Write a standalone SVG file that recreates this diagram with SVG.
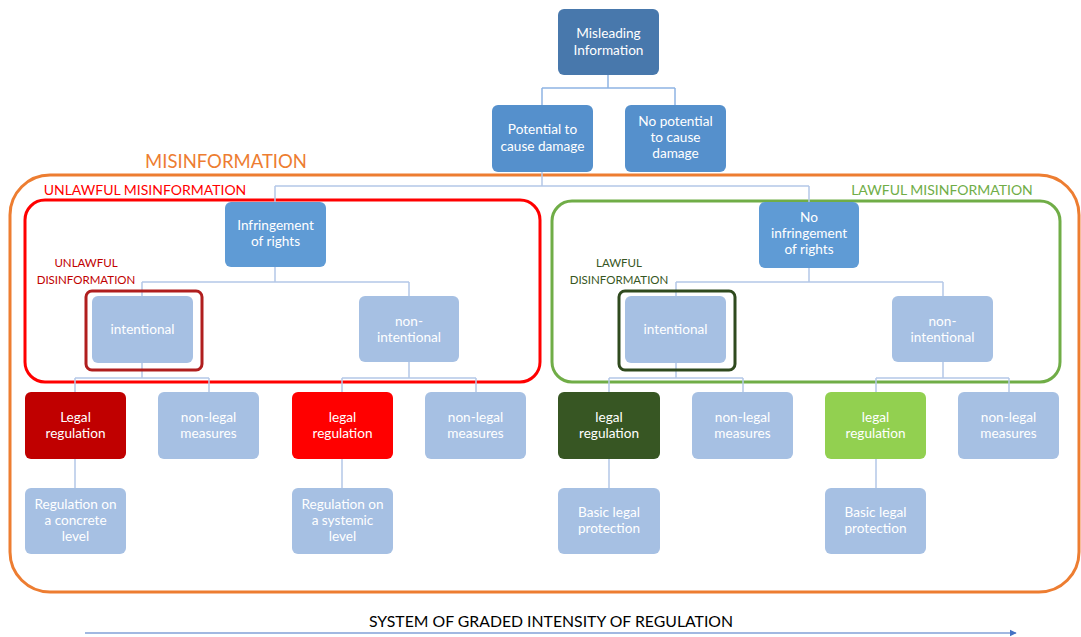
<svg xmlns="http://www.w3.org/2000/svg" width="1081" height="637" viewBox="0 0 1081 637">
<defs>
<style>
.n text{font-family:Lato,"Open Sans","Liberation Sans",sans-serif;font-size:13.6px;fill:#fff;text-anchor:middle}
.n rect{rx:6;ry:6}
.dk{fill:#4878AC}.md{fill:#5590CC}.ir{fill:#5F9BD5}.lt{fill:#A6C0E3}
.c path{fill:none;stroke:#B4C7E7;stroke-width:1.5}
.c path.t{stroke:#8EB4E3}
.lbl{font-family:Lato,"Open Sans","Liberation Sans",sans-serif}
</style>
<marker id="ah" viewBox="0 0 10 10" refX="9" refY="5" markerWidth="6" markerHeight="6" orient="auto"><path d="M0,0 L10,5 L0,10 z" fill="#4472C4"/></marker>
</defs>
<rect width="1081" height="637" fill="#fff"/>

<!-- group outlines -->
<rect x="10" y="175" width="1069" height="417" rx="40" fill="none" stroke="#ED7D31" stroke-width="3"/>
<rect x="25" y="200" width="515" height="182" rx="20" fill="none" stroke="#FF0000" stroke-width="3"/>
<rect x="552" y="201" width="508" height="181" rx="20" fill="none" stroke="#70AD47" stroke-width="3"/>
<text class="lbl" x="226" y="168" font-size="18.5" fill="#ED7D31" text-anchor="middle">MISINFORMATION</text>
<text class="lbl" x="145" y="195" font-size="14" fill="#FF0000" text-anchor="middle">UNLAWFUL MISINFORMATION</text>
<text class="lbl" x="942" y="195" font-size="14" fill="#70AD47" text-anchor="middle">LAWFUL MISINFORMATION</text>
<text class="lbl" font-size="11.5" fill="#C00000" text-anchor="middle"><tspan x="86" y="267">UNLAWFUL</tspan><tspan x="86" y="284">DISINFORMATION</tspan></text>
<text class="lbl" font-size="11.5" fill="#375623" text-anchor="middle"><tspan x="619" y="267">LAWFUL</tspan><tspan x="619" y="284">DISINFORMATION</tspan></text>

<g class="c" id="connectors">
<path class="t" d="M608,75 V88 M542,88 H675 M542,88 V105 M675,88 V105"/>
<path d="M542,172 V186 M275,186 H809 M275,186 V202 M809,186 V202"/>
<path d="M275,267 V282 M142,282 H409 M142,282 V296 M409,282 V296"/>
<path d="M809,268 V282 M676,282 H943 M676,282 V296 M943,282 V296"/>
<path d="M142,362 V378 M75,378 H209 M75,378 V392 M209,378 V392"/>
<path d="M409,362 V378 M342,378 H476 M342,378 V392 M476,378 V392"/>
<path d="M676,362 V378 M609,378 H743 M609,378 V392 M743,378 V392"/>
<path d="M943,362 V378 M876,378 H1009 M876,378 V392 M1009,378 V392"/>
<path d="M75,459 V488 M342,459 V488 M609,459 V488 M876,459 V488"/>
</g>

<g class="n" id="misleading"><rect class="dk" x="558" y="9" width="101" height="66"/><text x="608.5" y="38">Misleading</text><text x="608.5" y="55">Information</text></g>
<g class="n" id="potential"><rect class="md" x="492" y="105" width="101" height="67"/><text x="542.5" y="134">Potential to</text><text x="542.5" y="151">cause damage</text></g>
<g class="n" id="nopotential"><rect class="md" x="625" y="105" width="101" height="67"/><text x="675.5" y="126">No potential</text><text x="675.5" y="142">to cause</text><text x="675.5" y="158">damage</text></g>
<g class="n" id="infringement"><rect class="ir" x="225" y="202" width="101" height="65"/><text x="275.5" y="230">Infringement</text><text x="275.5" y="246">of rights</text></g>
<g class="n" id="noinfringement"><rect class="ir" x="759" y="202" width="100" height="66"/><text x="809" y="222">No</text><text x="809" y="238">infringement</text><text x="809" y="254">of rights</text></g>

<g class="n" id="intentional-l"><rect class="lt" x="92" y="296" width="101" height="67"/><rect x="86" y="291" width="116" height="79" rx="10" fill="none" stroke="#B01E1E" stroke-width="3"/><text x="142.5" y="334">intentional</text></g>
<g class="n" id="nonintentional-l"><rect class="lt" x="359" y="296" width="100" height="66"/><text x="409" y="326">non-</text><text x="409" y="342">intentional</text></g>
<g class="n" id="intentional-r"><rect class="lt" x="625" y="296" width="101" height="67"/><rect x="619" y="291" width="116" height="79" rx="10" fill="none" stroke="#2F4A1E" stroke-width="3"/><text x="675.5" y="334">intentional</text></g>
<g class="n" id="nonintentional-r"><rect class="lt" x="892" y="296" width="101" height="66"/><text x="942.5" y="326">non-</text><text x="942.5" y="342">intentional</text></g>

<g class="n" id="legal1"><rect fill="#C00000" x="25" y="392" width="101" height="67"/><text x="75.5" y="422">Legal</text><text x="75.5" y="438">regulation</text></g>
<g class="n" id="nonlegal1"><rect class="lt" x="158" y="392" width="101" height="67"/><text x="208.5" y="422">non-legal</text><text x="208.5" y="438">measures</text></g>
<g class="n" id="legal2"><rect fill="#FF0000" x="292" y="392" width="101" height="67"/><text x="342.5" y="422">legal</text><text x="342.5" y="438">regulation</text></g>
<g class="n" id="nonlegal2"><rect class="lt" x="425" y="392" width="101" height="67"/><text x="475.5" y="422">non-legal</text><text x="475.5" y="438">measures</text></g>
<g class="n" id="legal3"><rect fill="#375623" x="558" y="392" width="102" height="67"/><text x="609" y="422">legal</text><text x="609" y="438">regulation</text></g>
<g class="n" id="nonlegal3"><rect class="lt" x="692" y="392" width="101" height="67"/><text x="742.5" y="422">non-legal</text><text x="742.5" y="438">measures</text></g>
<g class="n" id="legal4"><rect fill="#92D050" x="825" y="392" width="101" height="67"/><text x="875.5" y="422">legal</text><text x="875.5" y="438">regulation</text></g>
<g class="n" id="nonlegal4"><rect class="lt" x="958" y="392" width="101" height="67"/><text x="1008.5" y="422">non-legal</text><text x="1008.5" y="438">measures</text></g>

<g class="n" id="concrete"><rect class="lt" x="25" y="488" width="101" height="66"/><text x="75.5" y="509">Regulation on</text><text x="75.5" y="525">a concrete</text><text x="75.5" y="541">level</text></g>
<g class="n" id="systemic"><rect class="lt" x="292" y="488" width="101" height="66"/><text x="342.5" y="509">Regulation on</text><text x="342.5" y="525">a systemic</text><text x="342.5" y="541">level</text></g>
<g class="n" id="basic1"><rect class="lt" x="558" y="488" width="102" height="66"/><text x="609" y="517">Basic legal</text><text x="609" y="533">protection</text></g>
<g class="n" id="basic2"><rect class="lt" x="825" y="488" width="101" height="66"/><text x="875.5" y="517">Basic legal</text><text x="875.5" y="533">protection</text></g>

<text class="lbl" x="551" y="627" font-size="15.8" fill="#000" text-anchor="middle">SYSTEM OF GRADED INTENSITY OF REGULATION</text>
<path d="M85,633 H1016" stroke="#4472C4" stroke-width="1.2" fill="none" marker-end="url(#ah)"/>
</svg>
